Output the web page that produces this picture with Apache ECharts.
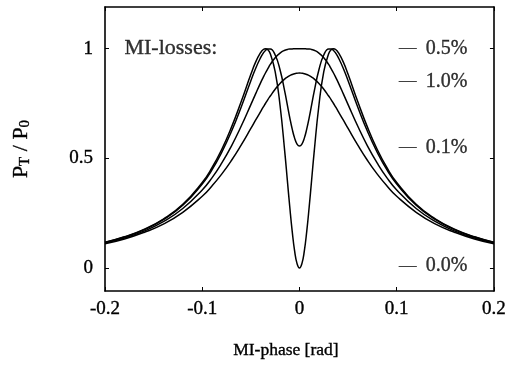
<!DOCTYPE html>
<html>
<head>
<meta charset="utf-8">
<script src="https://cdn.jsdelivr.net/npm/echarts@6/dist/echarts.min.js"></script>
<style>
  html, body { margin: 0; padding: 0; background: #fff; }
  #chart { width: 509px; height: 369px; }
</style>
</head>
<body>
<div id="chart"></div>
<script>
// MI-phase [rad]
const phase = [
  -0.2, -0.18, -0.16, -0.14, -0.12, -0.1, -0.09, -0.08, -0.07, -0.06, -0.05, -0.045, -0.04,
  -0.0375, -0.035, -0.0325, -0.03, -0.025, -0.02, -0.015, -0.0125, -0.01, -0.0075, -0.005, -0.0025,
  0,
  0.0025, 0.005, 0.0075, 0.01, 0.0125, 0.015, 0.02, 0.025, 0.03, 0.0325, 0.035, 0.0375,
  0.04, 0.045, 0.05, 0.06, 0.07, 0.08, 0.09, 0.1, 0.12, 0.14, 0.16, 0.18, 0.2
]

// P_T / P_0 fuer verschiedene MI-Verluste
const loss00 = [
  0.117, 0.142, 0.176, 0.223, 0.290, 0.390, 0.457, 0.540, 0.641, 0.758, 0.883, 0.940, 0.982,
  0.995, 1.000, 0.995, 0.977, 0.895, 0.742, 0.524, 0.401, 0.279, 0.168, 0.078, 0.020,
  0.000,
  0.020, 0.078, 0.168, 0.279, 0.401, 0.524, 0.742, 0.895, 0.977, 0.995, 1.000, 0.995,
  0.982, 0.940, 0.883, 0.758, 0.641, 0.540, 0.457, 0.390, 0.290, 0.223, 0.176, 0.142, 0.117
]
const loss01 = [
  0.116, 0.141, 0.174, 0.220, 0.286, 0.383, 0.447, 0.527, 0.622, 0.733, 0.854, 0.911, 0.959,
  0.978, 0.992, 0.999, 0.999, 0.971, 0.904, 0.802, 0.744, 0.686, 0.634, 0.592, 0.565,
  0.556,
  0.565, 0.592, 0.634, 0.686, 0.744, 0.802, 0.904, 0.971, 0.999, 0.999, 0.992, 0.978,
  0.959, 0.911, 0.854, 0.733, 0.622, 0.527, 0.447, 0.383, 0.286, 0.220, 0.174, 0.141, 0.116
]
const loss05 = [
  0.114, 0.137, 0.168, 0.211, 0.271, 0.356, 0.411, 0.478, 0.556, 0.646, 0.745, 0.795, 0.844,
  0.867, 0.889, 0.909, 0.928, 0.959, 0.980, 0.993, 0.996, 0.999, 0.999, 1.000, 1.000,
  1.000,
  1.000, 1.000, 0.999, 0.999, 0.996, 0.993, 0.980, 0.959, 0.928, 0.909, 0.889, 0.867,
  0.844, 0.795, 0.745, 0.646, 0.556, 0.478, 0.411, 0.356, 0.271, 0.211, 0.168, 0.137, 0.114
]
const loss10 = [
  0.110, 0.132, 0.162, 0.200, 0.254, 0.327, 0.374, 0.428, 0.490, 0.560, 0.636, 0.675, 0.713,
  0.732, 0.750, 0.768, 0.784, 0.815, 0.841, 0.862, 0.870, 0.877, 0.882, 0.886, 0.888,
  0.889,
  0.888, 0.886, 0.882, 0.877, 0.870, 0.862, 0.841, 0.815, 0.784, 0.768, 0.750, 0.732,
  0.713, 0.675, 0.636, 0.560, 0.490, 0.428, 0.374, 0.327, 0.254, 0.200, 0.162, 0.132, 0.110
]

// Beschriftung rechts: Text und Hoehe
const lossNames = ['0.5%', '1.0%', '0.1%', '0.0%']
const lossLabelY = [1.0, 0.85, 0.55, 0.01]
const lossLabelX = 0.1

const xTicks = [-0.2, -0.1, 0, 0.1, 0.2]
const yTicks = [0, 0.5, 1]

const FONT = 'Liberation Serif'
const INK = '#000'
// etwas kraeftigere Schrift wie im Scan
const heavy = { textBorderColor: INK, textBorderWidth: 0.35 }

const chart = echarts.init(document.getElementById('chart'), null, { renderer: 'canvas' })

function curve(values) {
  return {
    type: 'line',
    data: phase.map((p, i) => [p, values[i]]),
    smooth: true,
    showSymbol: false,
    lineStyle: { color: INK, width: 1.5 },
    z: 3
  }
}

const frameAxis = {
  axisLine: { show: true, onZero: false, lineStyle: { color: INK, width: 1.6 } },
  splitLine: { show: false }
}

chart.setOption({
  backgroundColor: '#fff',
  animation: false,
  grid: { left: 105, right: 13, top: 7, bottom: 78 },
  xAxis: [
    {
      ...frameAxis,
      type: 'value', min: -0.2, max: 0.2, position: 'bottom',
      axisTick: { show: true, inside: true, length: 4, customValues: xTicks, lineStyle: { color: INK } },
      axisLabel: { customValues: xTicks, margin: 9, color: INK, fontFamily: FONT, fontSize: 19, ...heavy,
        formatter: v => (v === 0 ? '0' : String(v)) }
    },
    {
      ...frameAxis,
      type: 'value', min: -0.2, max: 0.2, position: 'top',
      axisTick: { show: true, inside: true, length: 4, customValues: xTicks, lineStyle: { color: INK } },
      axisLabel: { show: false }
    }
  ],
  yAxis: [
    {
      ...frameAxis,
      type: 'value', min: -0.105, max: 1.19, position: 'left',
      axisTick: { show: true, inside: true, length: 4, customValues: yTicks, lineStyle: { color: INK } },
      axisLabel: { customValues: yTicks, margin: 12, color: INK, fontFamily: FONT, fontSize: 19, ...heavy },
      name: '{p|P}{s|T}{p| / P}{s|0}',
      nameLocation: 'middle',
      nameRotate: 90,
      nameGap: 72,
      nameTextStyle: {
        rich: {
          p: { fontFamily: FONT, fontSize: 22, color: INK, ...heavy },
          s: { fontFamily: FONT, fontSize: 15, color: INK, ...heavy, padding: [8, 0, 0, 0] }
        }
      }
    },
    {
      ...frameAxis,
      type: 'value', min: -0.105, max: 1.19, position: 'right',
      axisTick: { show: true, inside: true, length: 4, customValues: yTicks, lineStyle: { color: INK } },
      axisLabel: { show: false }
    }
  ],
  graphic: [
    {
      type: 'text', left: 233, top: 341,
      style: { text: 'MI-phase [rad]', fontFamily: FONT, fontSize: 17.5, fill: INK, stroke: INK, lineWidth: 0.35 }
    }
  ],
  series: [
    curve(loss00),
    curve(loss01),
    curve(loss05),
    curve(loss10),
    {
      type: 'scatter',
      symbolSize: 0,
      silent: true,
      data: lossNames.map((n, i) => ({ value: [lossLabelX, lossLabelY[i]], name: n })),
      label: {
        show: true, position: 'right', distance: 2,
        formatter: p => '{d|\u2014}{t|' + p.name + '}',
        rich: {
          d: { fontFamily: FONT, fontSize: 18, color: INK, padding: [0, 9, 0, 0] },
          t: { fontFamily: FONT, fontSize: 20, color: INK, ...heavy }
        }
      }
    },
    {
      type: 'scatter',
      symbolSize: 0,
      silent: true,
      data: [{ value: [-0.18, 1.0], name: 'MI-losses:' }],
      label: {
        show: true, position: 'right', distance: 0,
        formatter: p => p.name,
        fontFamily: FONT, fontSize: 22, color: INK, ...heavy
      }
    }
  ]
})
</script>
</body>
</html>
